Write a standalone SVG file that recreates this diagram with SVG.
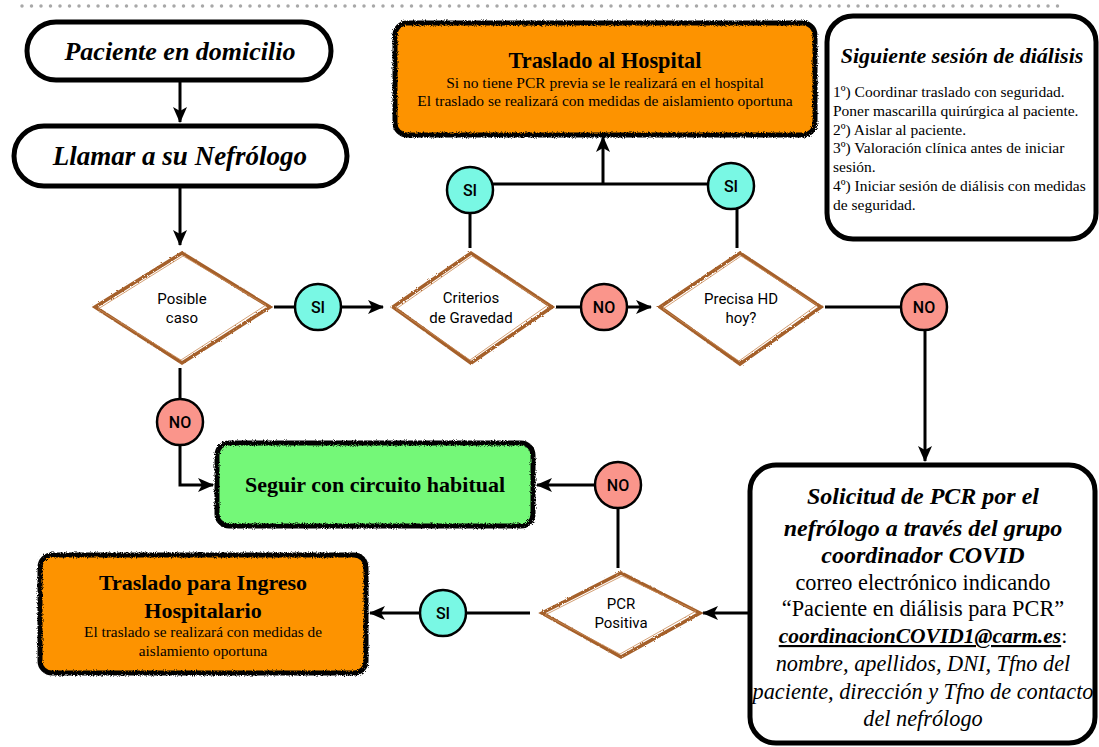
<svg xmlns="http://www.w3.org/2000/svg" width="1099" height="747" viewBox="0 0 1099 747">
<defs>
<style>
.pill{fill:#fff;stroke:#000;stroke-width:5}
.box{fill:#fff;stroke:#000;stroke-width:5}
.rough{fill:none;stroke:#000;stroke-width:5;filter:url(#rough)}
.dia{fill:#fff;stroke:#a5602b;stroke-width:3.5;stroke-linejoin:miter;filter:url(#rough2)}
.dia2{fill:none;stroke:#c98a55;stroke-width:1;opacity:.8}
.si{fill:#79f8e4;stroke:#000;stroke-width:2.5}
.no{fill:#fa958b;stroke:#000;stroke-width:2.5}
.ct{font-family:Roboto,"Liberation Sans",Arial,sans-serif;font-size:16px;font-weight:500;text-anchor:middle}
.dt{font-family:Roboto,"Liberation Sans",sans-serif;font-size:15px;text-anchor:middle}
.serif{font-family:"Liberation Serif","Times New Roman",serif}
.conn{fill:none;stroke:#000;stroke-width:3}
</style>
<filter id="rough" x="-5%" y="-10%" width="110%" height="120%">
<feTurbulence type="fractalNoise" baseFrequency="0.9" numOctaves="2" seed="4"/>
<feDisplacementMap in="SourceGraphic" scale="4"/>
</filter>
<filter id="rough2" x="-5%" y="-10%" width="110%" height="120%">
<feTurbulence type="fractalNoise" baseFrequency="0.8" numOctaves="2" seed="7"/>
<feDisplacementMap in="SourceGraphic" scale="2.5"/>
</filter>
<marker id="arr" markerUnits="userSpaceOnUse" markerWidth="16" markerHeight="14" viewBox="0 0 16 14" refX="15" refY="7" orient="auto">
<path d="M0,0 L16,7 L0,14 L4,7 z" fill="#000"/>
</marker>
</defs>
<rect width="1099" height="747" fill="#fff"/>
<line x1="22" y1="6" x2="1066" y2="6" stroke="#a8a8a8" stroke-width="3.5" stroke-linecap="round" stroke-dasharray="0 9.5"/>

<g id="connectors">
<line class="conn" x1="180" y1="82" x2="180" y2="122" marker-end="url(#arr)"/>
<line class="conn" x1="180" y1="188" x2="180" y2="245" marker-end="url(#arr)"/>
<line class="conn" x1="274" y1="307" x2="296" y2="307"/>
<line class="conn" x1="341" y1="307" x2="383" y2="307" marker-end="url(#arr)"/>
<line class="conn" x1="556" y1="307" x2="581" y2="307"/>
<line class="conn" x1="627" y1="307" x2="651" y2="307" marker-end="url(#arr)"/>
<line class="conn" x1="825" y1="307" x2="901" y2="307"/>
<line class="conn" x1="925" y1="330" x2="925" y2="461" marker-end="url(#arr)"/>
<line class="conn" x1="470" y1="213" x2="470" y2="248"/>
<line class="conn" x1="737" y1="209" x2="737" y2="248"/>
<line class="conn" x1="493" y1="184" x2="709" y2="184"/>
<line class="conn" x1="603" y1="184" x2="603" y2="137" marker-end="url(#arr)"/>
<line class="conn" x1="180" y1="368" x2="180" y2="399"/>
<polyline class="conn" points="180,445 180,485 213,485" marker-end="url(#arr)"/>
<line class="conn" x1="595" y1="485" x2="537" y2="485" marker-end="url(#arr)"/>
<line class="conn" x1="618" y1="508" x2="618" y2="568"/>
<line class="conn" x1="748" y1="613" x2="703" y2="613" marker-end="url(#arr)"/>
<line class="conn" x1="530" y1="613" x2="466" y2="613"/>
<line class="conn" x1="420" y1="613" x2="370" y2="613" marker-end="url(#arr)"/>
</g>

<g id="n-paciente">
<rect class="pill" x="27" y="22" width="304" height="58" rx="29"/>
<text class="serif" x="180" y="60" font-size="26" font-weight="bold" font-style="italic" text-anchor="middle">Paciente en domicilio</text>
</g>

<g id="n-llamar">
<rect class="pill" x="14" y="126" width="333" height="60" rx="30"/>
<text class="serif" x="180" y="165" font-size="27" font-weight="bold" font-style="italic" text-anchor="middle">Llamar a su Nefrólogo</text>
</g>

<g id="n-traslado-hospital">
<rect x="395" y="23" width="420" height="112" rx="12" fill="#fd9300"/>
<rect class="rough" x="395" y="23" width="420" height="112" rx="12"/>
<text class="serif" x="605" y="68" font-size="22.3" font-weight="bold" text-anchor="middle">Traslado al Hospital</text>
<text class="serif" x="605" y="88" font-size="15.5" text-anchor="middle">Si no tiene PCR previa se le realizará en el hospital</text>
<text class="serif" x="605" y="106" font-size="15.5" text-anchor="middle">El traslado se realizará con medidas de aislamiento oportuna</text>
</g>

<g id="n-siguiente">
<rect class="box" x="827" y="16" width="269" height="223" rx="26"/>
<text class="serif" x="962" y="63" font-size="22" font-weight="bold" font-style="italic" text-anchor="middle">Siguiente sesión de diálisis</text>
<g class="serif" font-size="15.5">
<text x="833" y="97">1º) Coordinar traslado con seguridad.</text>
<text x="833" y="116">Poner mascarilla quirúrgica al paciente.</text>
<text x="833" y="135">2º) Aislar al paciente.</text>
<text x="833" y="153">3º) Valoración clínica antes de iniciar</text>
<text x="833" y="172">sesión.</text>
<text x="833" y="191">4º) Iniciar sesión de diálisis con medidas</text>
<text x="833" y="210">de seguridad.</text>
</g>
</g>

<g id="n-posible">
<polygon class="dia" points="95,307 182,253 270,307 182,363"/>
<polygon class="dia2" points="98,309 183,256 266,305 181,360"/>
<text class="dt" x="182" y="304">Posible</text>
<text class="dt" x="182" y="323">caso</text>
</g>

<g id="n-criterios">
<polygon class="dia" points="393,307 471,253 552,307 471,363"/>
<polygon class="dia2" points="396,309 472,256 548,305 470,360"/>
<text class="dt" x="471" y="303">Criterios</text>
<text class="dt" x="471" y="323">de Gravedad</text>
</g>

<g id="n-precisa">
<polygon class="dia" points="660,307 740,253 821,307 740,364"/>
<polygon class="dia2" points="663,309 741,256 817,305 739,361"/>
<text class="dt" x="741" y="304">Precisa HD</text>
<text class="dt" x="741" y="323">hoy?</text>
</g>

<g id="n-pcr">
<polygon class="dia" points="542,613 621,573 700,613 621,657"/>
<polygon class="dia2" points="545,615 622,576 696,611 620,654"/>
<text class="dt" x="621" y="609">PCR</text>
<text class="dt" x="621" y="628">Positiva</text>
</g>

<g id="c-si1"><circle class="si" cx="318" cy="307" r="23"/><text class="ct" x="318" y="313">SI</text></g>
<g id="c-no1"><circle class="no" cx="604" cy="307" r="23"/><text class="ct" x="604" y="313">NO</text></g>
<g id="c-no2"><circle class="no" cx="924" cy="307" r="23"/><text class="ct" x="924" y="313">NO</text></g>
<g id="c-si2"><circle class="si" cx="470" cy="190" r="23"/><text class="ct" x="470" y="196">SI</text></g>
<g id="c-si3"><circle class="si" cx="731" cy="186" r="23"/><text class="ct" x="731" y="192">SI</text></g>
<g id="c-no3"><circle class="no" cx="180" cy="422" r="23"/><text class="ct" x="180" y="428">NO</text></g>
<g id="c-no4"><circle class="no" cx="618" cy="485" r="23"/><text class="ct" x="618" y="491">NO</text></g>
<g id="c-si4"><circle class="si" cx="443" cy="613" r="23"/><text class="ct" x="443" y="619">SI</text></g>

<g id="n-seguir">
<rect x="217" y="443" width="316" height="83" rx="12" fill="#74f878"/>
<rect class="rough" x="217" y="443" width="316" height="83" rx="12"/>
<text class="serif" x="375" y="492" font-size="22" font-weight="bold" text-anchor="middle">Seguir con circuito habitual</text>
</g>

<g id="n-ingreso">
<rect x="40" y="555" width="326" height="118" rx="12" fill="#fd9300"/>
<rect class="rough" x="40" y="555" width="326" height="118" rx="12"/>
<text class="serif" x="203" y="590" font-size="22" font-weight="bold" text-anchor="middle">Traslado para Ingreso</text>
<text class="serif" x="203" y="618" font-size="22" font-weight="bold" text-anchor="middle">Hospitalario</text>
<text class="serif" x="203" y="637" font-size="15.3" text-anchor="middle">El traslado se realizará con medidas de</text>
<text class="serif" x="203" y="656" font-size="15.3" text-anchor="middle">aislamiento oportuna</text>
</g>

<g id="n-solicitud">
<rect class="box" x="750" y="465" width="345" height="278" rx="26"/>
<g class="serif" text-anchor="middle">
<text x="923" y="504" font-size="24" font-weight="bold" font-style="italic">Solicitud de PCR por el</text>
<text x="923" y="536" font-size="24" font-weight="bold" font-style="italic">nefrólogo a través del grupo</text>
<text x="923" y="563" font-size="24" font-weight="bold" font-style="italic">coordinador COVID</text>
<text x="923" y="590" font-size="22.3">correo electrónico indicando</text>
<text x="923" y="616" font-size="22.3"> “Paciente en diálisis para PCR”</text>
<text x="923" y="643" font-size="22"><tspan font-size="21.5" font-weight="bold" font-style="italic" text-decoration="underline">coordinacionCOVID1@carm.es</tspan>:</text>
<text x="923" y="671" font-size="22.3" font-style="italic">nombre, apellidos, DNI, Tfno del</text>
<text x="923" y="699" font-size="22.3" font-style="italic">paciente, dirección y Tfno de contacto</text>
<text x="923" y="726" font-size="22.3" font-style="italic">del nefrólogo</text>
</g>
</g>
</svg>
